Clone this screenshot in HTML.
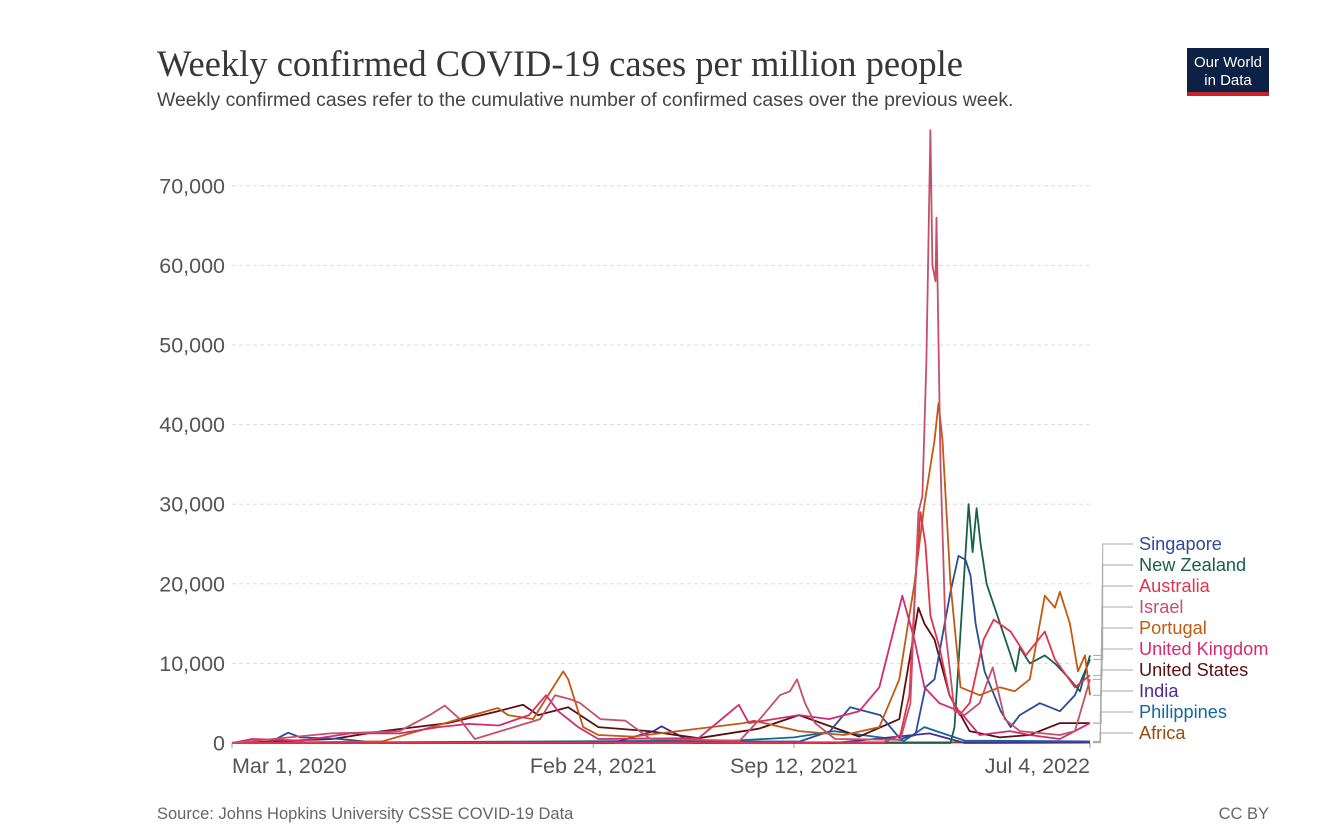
<!DOCTYPE html>
<html><head><meta charset="utf-8"><style>
body{margin:0;background:#fff;font-family:"Liberation Sans",sans-serif}
svg{display:block}
</style></head><body>
<svg id="c" width="1340" height="838" xmlns="http://www.w3.org/2000/svg">
<text x="157" y="76" font-family="Liberation Serif,serif" font-size="36.5" fill="#373737">Weekly confirmed COVID-19 cases per million people</text>
<text x="157" y="106" font-size="19.4" fill="#444">Weekly confirmed cases refer to the cumulative number of confirmed cases over the previous week.</text>
<g><rect x="1187" y="48" width="82" height="48" fill="#0d2145"/><rect x="1187" y="92" width="82" height="4" fill="#c6242a"/>
<text x="1228" y="67" text-anchor="middle" font-size="15" fill="#fff">Our World</text><text x="1228" y="85" text-anchor="middle" font-size="15" fill="#fff">in Data</text></g>
<text x="157" y="819" font-size="16.5" fill="#666">Source: Johns Hopkins University CSSE COVID-19 Data</text>
<text x="1269" y="819" text-anchor="end" font-size="16.5" fill="#666">CC BY</text>
<g id="grid"></g><g id="lines"></g><g id="legend"></g>
</svg>
<script>
const yTicks=[0,10000,20000,30000,40000,50000,60000,70000];
const xTickDays=[0,360,560,855];
const xTickLabels=["Mar 1, 2020","Feb 24, 2021","Sep 12, 2021","Jul 4, 2022"];
const seriesNames=["Singapore","New Zealand","Australia","Israel","Portugal","United Kingdom","United States","India","Philippines","Africa"];
const seriesColors=["#2a4c9a","#17604a","#e0344e","#c4506a","#c15a12","#d62a70","#5c0f13","#4b2a91","#12699a","#9a4a14"];
const sgDays=[0,38,56,68,108,147,566,596,616,646,666,681,691,700,716,724,731,736,741,750,766,776,785,805,825,840,855];
const sgVals=[0,100,1300,700,500,0,200,1500,4500,3500,500,1000,7000,8000,19000,23500,23000,21000,15000,9000,4000,2000,3500,5000,4000,6000,10500];
const nzDays=[0,716,720,724,730,734,738,742,746,752,760,776,781,785,795,810,820,835,845,855];
const nzVals=[0,0,2000,10000,22000,30000,24000,29500,25000,20000,17000,11000,9000,12000,10000,11000,10000,8000,6500,11000];
const auDays=[0,650,666,675,681,686,691,696,705,715,725,735,749,759,776,791,810,820,840,855];
const auVals=[0,100,1000,6000,20000,29000,25000,16000,12000,6000,3500,5000,13000,15500,14000,11000,14000,10500,7000,8500];
const ilDays=[0,98,128,167,197,212,227,242,307,322,337,347,367,392,417,506,526,546,556,563,571,581,601,666,676,684,688,692,696,698,701,702,706,711,720,730,745,758,770,785,825,840,855];
const ilVals=[0,1200,1300,1500,3500,4700,3000,500,3000,6000,5500,5000,3000,2800,500,300,3000,6000,6500,8000,5000,2500,500,400,5000,29000,31000,48000,77000,60000,58000,66000,35000,14000,4000,3500,5000,9500,3000,1500,1000,1500,8000];
const ptDays=[0,150,240,265,275,300,330,335,350,365,400,510,520,565,610,645,665,680,690,700,704,708,716,726,745,765,780,795,810,820,825,835,843,850,855];
const ptVals=[0,200,3500,4400,3500,3000,9000,8000,2000,1000,800,2500,2800,1500,1000,2000,8000,20000,30000,38000,42700,38000,20000,7000,6000,7000,6500,8000,18500,17000,19000,15000,9000,11000,6000];
const ukDays=[0,20,70,118,167,206,236,266,296,313,325,345,365,465,505,515,565,595,625,645,668,680,690,705,725,745,775,795,825,855];
const ukVals=[0,500,300,1200,1200,2000,2400,2200,3500,6000,4000,2000,500,600,4800,2500,3500,3000,4000,7000,18500,13000,7000,5000,4000,1000,1500,1000,500,2500];
const usDays=[0,100,150,215,265,290,305,335,365,415,465,525,565,625,665,684,690,700,715,735,765,795,825,855];
const usVals=[0,500,1500,2500,4000,4800,3500,4500,2000,1500,600,1800,3500,800,3000,17000,15000,13000,6000,1500,700,1000,2500,2500];
const inDays=[0,380,420,428,460,560,600,695,730,855];
const inVals=[0,0,1500,2100,0,100,0,1200,0,50];
const phDays=[0,500,560,600,640,670,690,730,855];
const phVals=[0,300,700,1500,800,300,2000,300,200];
const afDays=[0,300,600,855];
const afVals=[50,100,80,100];
const allDays=[sgDays,nzDays,auDays,ilDays,ptDays,ukDays,usDays,inDays,phDays,afDays];
const allVals=[sgVals,nzVals,auVals,ilVals,ptVals,ukVals,usVals,inVals,phVals,afVals];
const NS="http://www.w3.org/2000/svg";
const X0=232,X1=1090,Y0=743,PX10K=79.6;
const xS=d=>X0+d*(X1-X0)/855;
const yS=v=>Y0-v/10000*PX10K;
function mk(t,a,p){const e=document.createElementNS(NS,t);for(const k in a)e.setAttribute(k,a[k]);p.appendChild(e);return e;}
const grid=document.getElementById('grid');
yTicks.forEach(v=>{
  if(v>0){const l=mk('line',{x1:X0,x2:X1,y1:yS(v),y2:yS(v),stroke:'#ddd','stroke-dasharray':'4,3'},grid);
  
  }
  const t=mk('text',{x:225,y:yS(v)+7.5,'text-anchor':'end','font-size':21.5,fill:'#555'},grid);t.textContent=v.toLocaleString('en-US');
  
  
});
const ax=mk('line',{x1:X0,x2:X1,y1:Y0,y2:Y0,stroke:'#999'},grid);


xTickDays.forEach((d,i)=>{
  mk('line',{x1:xS(d),x2:xS(d),y1:Y0,y2:Y0+5,stroke:'#999'},grid);
  const anchor=i==0?'start':(i==xTickDays.length-1?'end':'middle');
  const t=mk('text',{x:xS(d),y:773,'text-anchor':anchor,'font-size':21.5,fill:'#555'},grid);t.textContent=xTickLabels[i];
  
  
});
const lines=document.getElementById('lines');
const order=[9,8,7,6,0,1,4,5,2,3];
order.forEach(i=>{
  const pts=allDays[i].map((d,j)=>xS(d).toFixed(1)+','+yS(allVals[i][j]).toFixed(1)).join(' ');
  const p=mk('polyline',{points:pts,fill:'none',stroke:seriesColors[i],'stroke-width':1.8,'stroke-linejoin':'round'},lines);
  
  
});
const lg=document.getElementById('legend');
seriesNames.forEach((n,i)=>{
  const ly=544+i*21;
  const ev=allVals[i][allVals[i].length-1];
  const ey=yS(ev);const bx=1100+(9-i)*0.3;
  mk('polyline',{points:`${X1+3},${ey} ${bx},${ey} ${bx},${ly} ${1133},${ly}`,fill:'none',stroke:'#aaa','stroke-width':1},lg);
  const t=mk('text',{x:1139,y:ly+6,'font-size':18.2,fill:seriesColors[i]},lg);t.textContent=n;
  
  
});
</script>
</body></html>
